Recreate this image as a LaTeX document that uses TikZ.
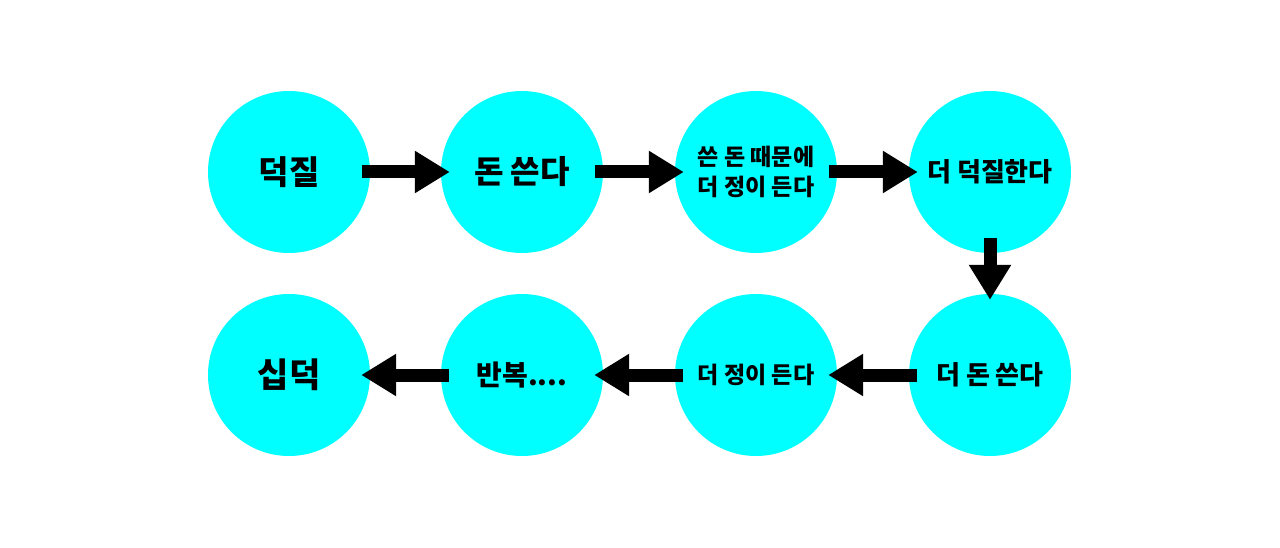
\documentclass[tikz,border=0pt]{standalone}
\usepackage{fontspec}
\newfontfamily\kr{Noto Sans CJK KR}
\usetikzlibrary{arrows.meta}
\definecolor{circ}{HTML}{00FFFF}
\tikzset{
  bub/.style={circle, fill=circ, minimum size=162pt, inner sep=0pt, align=center},
  fs/.style={font=\kr\bfseries\fontsize{#1}{30}\selectfont},
  arr/.style={line width=13pt, -{Triangle[length=35pt,width=40pt]}, black}
}
\begin{document}
\begin{tikzpicture}[x=1pt,y=-1pt]
\useasboundingbox[fill=white] (0,0) rectangle (1280,548);
\node[bub, fs=33] (a) at (289,172) {덕질};
\node[bub, fs=32] (b) at (522,172) {돈 쓴다};
\node[bub, fs=23] (c) at (756,172) {쓴 돈 때문에\\더 정이 든다};
\node[bub, fs=26] (d) at (990,172) {더 덕질한다};
\node[bub, fs=26] (e) at (990,375) {더 돈 쓴다};
\node[bub, fs=23] (f) at (756,375) {더 정이 든다};
\node[bub, fs=28] (g) at (522,375) {반복....};
\node[bub, fs=34] (h) at (289,375) {십덕};
\draw[arr] ([xshift=-8pt]a.east) -- ([xshift=9pt]b.west);
\draw[arr] ([xshift=-8pt]b.east) -- ([xshift=9pt]c.west);
\draw[arr] ([xshift=-8pt]c.east) -- ([xshift=9pt]d.west);
\draw[arr] ([yshift=15pt]d.south) -- ([yshift=-6pt]e.north);
\draw[arr] ([xshift=8pt]e.west) -- ([xshift=-9pt]f.east);
\draw[arr] ([xshift=8pt]f.west) -- ([xshift=-9pt]g.east);
\draw[arr] ([xshift=8pt]g.west) -- ([xshift=-9pt]h.east);
\end{tikzpicture}
\end{document}
